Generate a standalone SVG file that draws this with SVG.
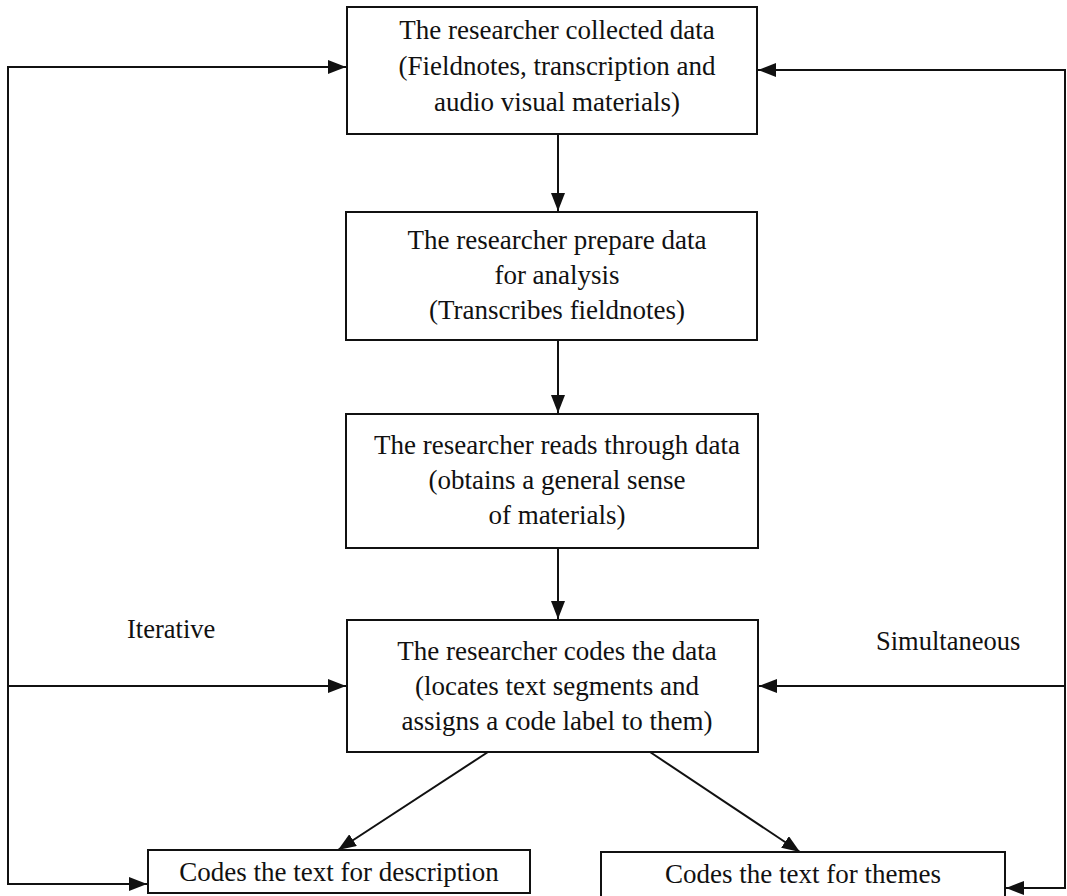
<svg xmlns="http://www.w3.org/2000/svg" width="1067" height="896" viewBox="0 0 1067 896">
  <style>
    .box { fill: #fff; stroke: #111; stroke-width: 2; }
    .lbl { font-family: "Liberation Serif", "Times New Roman", serif; font-size: 27px; fill: #111; text-anchor: middle; }
    .side { font-family: "Liberation Serif", "Times New Roman", serif; font-size: 26.5px; fill: #111; }
    .conn { fill: none; stroke: #111; stroke-width: 2; }
  </style>
  <defs>
    <marker id="arrow" viewBox="0 0 18 14" refX="18" refY="7" markerWidth="18" markerHeight="14" markerUnits="userSpaceOnUse" orient="auto">
      <path d="M0,0 L18,7 L0,14 Z" fill="#111"/>
    </marker>
  </defs>
  <rect width="1067" height="896" fill="#fff"/>

  <g id="connectors">
    <!-- main flow -->
    <line class="conn" x1="558" y1="134" x2="558" y2="211" marker-end="url(#arrow)"/>
    <line class="conn" x1="558" y1="340" x2="558" y2="413" marker-end="url(#arrow)"/>
    <line class="conn" x1="558" y1="548" x2="558" y2="619" marker-end="url(#arrow)"/>
    <line class="conn" x1="488" y1="752" x2="338" y2="850" marker-end="url(#arrow)"/>
    <line class="conn" x1="650" y1="752" x2="800" y2="852" marker-end="url(#arrow)"/>
    <!-- iterative loop (left) -->
    <polyline class="conn" points="346,67 8,67 8,884 147,884"/>
    <line class="conn" x1="8" y1="67" x2="346" y2="67" marker-end="url(#arrow)"/>
    <line class="conn" x1="8" y1="686" x2="346" y2="686" marker-end="url(#arrow)"/>
    <line class="conn" x1="8" y1="884" x2="147" y2="884" marker-end="url(#arrow)"/>
    <!-- simultaneous loop (right) -->
    <polyline class="conn" points="758,70 1065,70 1065,888 1006,888"/>
    <line class="conn" x1="1065" y1="70" x2="758" y2="70" marker-end="url(#arrow)"/>
    <line class="conn" x1="1065" y1="686" x2="759" y2="686" marker-end="url(#arrow)"/>
    <line class="conn" x1="1065" y1="888" x2="1006" y2="888" marker-end="url(#arrow)"/>
  </g>

  <g id="collect">
    <rect class="box" x="347" y="7" width="410" height="127"/>
    <text class="lbl" x="557" y="39">The researcher collected data</text>
    <text class="lbl" x="557" y="75">(Fieldnotes, transcription and</text>
    <text class="lbl" x="557" y="111">audio visual materials)</text>
  </g>

  <g id="prepare">
    <rect class="box" x="346" y="212" width="411" height="128"/>
    <text class="lbl" x="557" y="249">The researcher prepare data</text>
    <text class="lbl" x="557" y="284">for analysis</text>
    <text class="lbl" x="557" y="319">(Transcribes fieldnotes)</text>
  </g>

  <g id="read">
    <rect class="box" x="346" y="414" width="412" height="134"/>
    <text class="lbl" x="557" y="454">The researcher reads through data</text>
    <text class="lbl" x="557" y="489">(obtains a general sense</text>
    <text class="lbl" x="557" y="524">of materials)</text>
  </g>

  <g id="code">
    <rect class="box" x="347" y="620" width="411" height="132"/>
    <text class="lbl" x="557" y="660">The researcher codes the data</text>
    <text class="lbl" x="557" y="695">(locates text segments and</text>
    <text class="lbl" x="557" y="730">assigns a code label to them)</text>
  </g>

  <g id="describe">
    <rect class="box" x="148" y="850" width="382" height="43"/>
    <text class="lbl" x="339" y="881">Codes the text for description</text>
  </g>

  <g id="themes">
    <rect class="box" x="601" y="852" width="404" height="46"/>
    <text class="lbl" x="803" y="883">Codes the text for themes</text>
  </g>

  <g id="labels">
    <text class="side" x="127" y="638">Iterative</text>
    <text class="side" x="876" y="650">Simultaneous</text>
  </g>
</svg>
